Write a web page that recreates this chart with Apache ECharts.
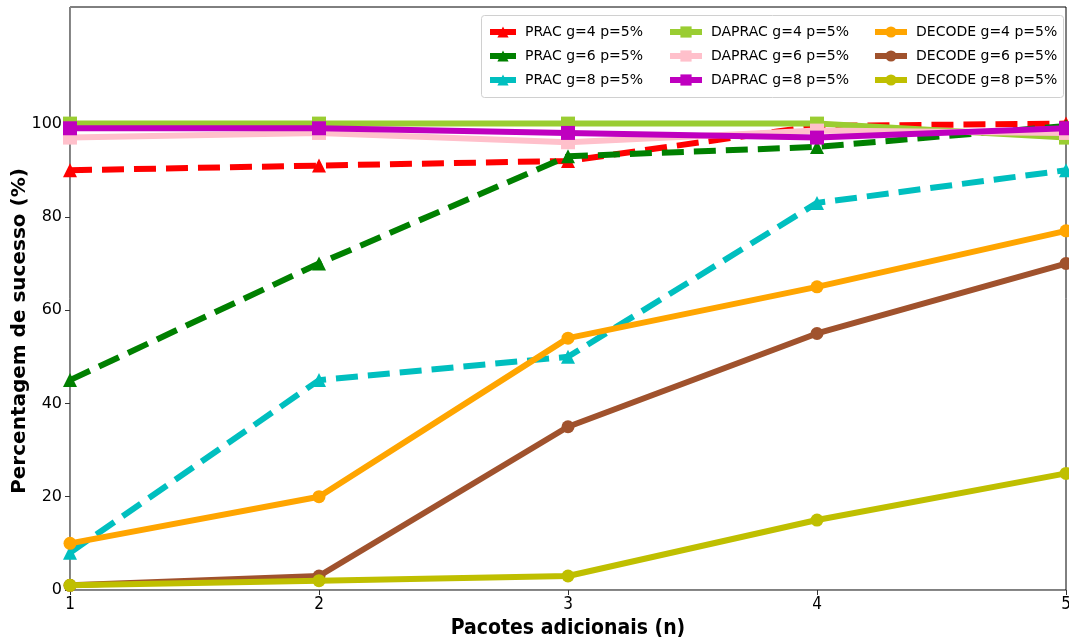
<!DOCTYPE html>
<html>
<head>
<meta charset="utf-8">
<script src="https://cdn.jsdelivr.net/npm/echarts@6/dist/echarts.min.js"></script>
<style>html,body{margin:0;padding:0;background:#fff}#c{width:1069px;height:643px}</style>
</head>
<body>
<div id="c"></div>
<script>
var xValues = [1, 2, 3, 4, 5];
var yTicks = [0, 20, 40, 60, 80, 100];
var pracG4 = [90, 91, 92, 99.5, 100];
var pracG6 = [45, 70, 93, 95, 99.5];
var pracG8 = [8, 45, 50, 83, 90];
var dapracG4 = [100, 100, 100, 100, 97];
var dapracG6 = [97, 98, 96, 98.5, 98];
var dapracG8 = [99, 99, 98, 97, 99];
var decodeG4 = [10, 20, 54, 65, 77];
var decodeG6 = [1, 3, 35, 55, 70];
var decodeG8 = [1, 2, 3, 15, 25];

var seriesDefs = [
  {name: 'PRAC g=4 p=5%', data: pracG4, color: '#ff0000', symbol: 'triangle', dash: true},
  {name: 'PRAC g=6 p=5%', data: pracG6, color: '#008000', symbol: 'triangle', dash: true},
  {name: 'PRAC g=8 p=5%', data: pracG8, color: '#00bfbf', symbol: 'triangle', dash: true},
  {name: 'DAPRAC g=4 p=5%', data: dapracG4, color: '#9acd32', symbol: 'rect', dash: false},
  {name: 'DAPRAC g=6 p=5%', data: dapracG6, color: '#ffc0cb', symbol: 'rect', dash: false},
  {name: 'DAPRAC g=8 p=5%', data: dapracG8, color: '#bf00bf', symbol: 'rect', dash: false},
  {name: 'DECODE g=4 p=5%', data: decodeG4, color: '#ffa500', symbol: 'circle', dash: false},
  {name: 'DECODE g=6 p=5%', data: decodeG6, color: '#a0522d', symbol: 'circle', dash: false},
  {name: 'DECODE g=8 p=5%', data: decodeG8, color: '#bfbf00', symbol: 'circle', dash: false}
];

var series = seriesDefs.map(function (d, i) {
  return {
    name: d.name,
    type: 'line',
    data: d.data.map(function (v, k) { return [xValues[k], v]; }),
    symbol: d.symbol,
    symbolSize: d.symbol === 'circle' ? 13 : 14,
    showSymbol: true,
    z: 2 + i,
    itemStyle: {color: d.color, borderWidth: 0},
    lineStyle: {color: d.color, width: 6, type: d.dash ? [22, 10] : 'solid', cap: 'butt'},
    emphasis: {disabled: true},
    animation: false
  };
});

function legendFor(names, left, w) {
  return {
    orient: 'vertical',
    left: left,
    top: 20,
    itemWidth: w,
    itemHeight: 14,
    itemGap: 10,
    data: names,
    selectedMode: false,
    lineStyle: {width: 6, type: 'solid'},
    textStyle: {fontFamily: 'DejaVu Sans', fontSize: 14, color: '#000', padding: [0, 0, 0, 4]}
  };
}

var chart = echarts.init(document.getElementById('c'), null, {renderer: 'canvas'});
chart.setOption({
  animation: false,
  backgroundColor: '#fff',
  grid: {left: 70, right: 3, top: 7, bottom: 53, outerBoundsMode: 'none', containLabel: false,
         show: true, borderColor: '#000', borderWidth: 1, backgroundColor: 'transparent'},
  legend: [
    legendFor(seriesDefs.slice(0, 3).map(function (d) { return d.name; }), 482, 26),
    legendFor(seriesDefs.slice(3, 6).map(function (d) { return d.name; }), 662, 32),
    legendFor(seriesDefs.slice(6, 9).map(function (d) { return d.name; }), 867, 32)
  ],
  graphic: [{
    type: 'rect', left: 481, top: 15, z: 0,
    shape: {width: 582, height: 82, r: 3},
    style: {fill: 'rgba(255,255,255,0.85)', stroke: '#d0d0d0', lineWidth: 1}
  }, {
    type: 'text', x: 20, y: 331, rotation: Math.PI / 2, z: 10,
    style: {text: 'Percentagem de sucesso (%)', fontFamily: 'DejaVu Sans', fontWeight: 'bold',
            fontSize: 20, fill: '#000', align: 'center', verticalAlign: 'middle'}
  }],
  xAxis: {
    type: 'value', min: 1, max: 5, interval: 1,
    name: 'Pacotes adicionais (n)', nameLocation: 'middle', nameGap: 28,
    nameTextStyle: {fontFamily: 'DejaVu Sans Condensed', fontWeight: 'bold', fontSize: 21, color: '#000'},
    axisLine: {show: true, lineStyle: {color: '#888', width: 1}},
    axisTick: {show: true, length: 5, lineStyle: {color: '#333'}},
    axisLabel: {fontFamily: 'DejaVu Sans Condensed', fontSize: 17, color: '#000', margin: 6},
    splitLine: {show: false}
  },
  yAxis: {
    type: 'value', min: 0, max: 125,
    axisLine: {show: true, lineStyle: {color: '#888', width: 1}},
    axisTick: {show: true, length: 5, customValues: yTicks, lineStyle: {color: '#333'}},
    axisLabel: {fontFamily: 'DejaVu Sans', fontSize: 16, color: '#000', margin: 8, customValues: yTicks},
    splitLine: {show: false}
  },
  series: series
});
</script>
</body>
</html>
